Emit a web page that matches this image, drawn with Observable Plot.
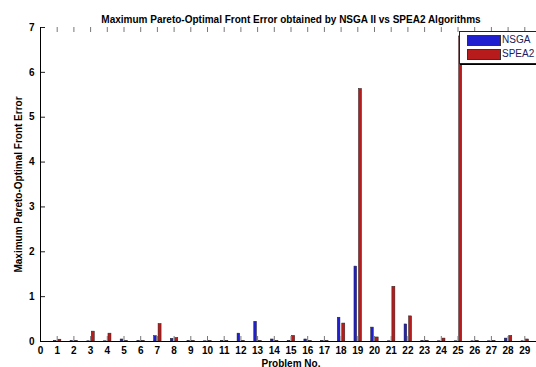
<!DOCTYPE html>
<html>
<head>
<meta charset="utf-8">
<script src="https://cdn.jsdelivr.net/npm/d3@7"></script>
<script src="https://cdn.jsdelivr.net/npm/@observablehq/plot@0.6"></script>
<style>
  html, body { margin: 0; padding: 0; background: #fff; overflow: hidden; }
  #wrap { position: relative; width: 536px; height: 367px; overflow: hidden; font-family: "Liberation Sans", Arial, sans-serif; }
  #chart svg { max-width: none !important; }
  #legend { position: absolute; left: 459px; top: 31px; width: 100px; height: 31px; background: #fff;
            border: 1px solid #222; border-right: none; box-shadow: 1px 1px 0 #000; }
  .sw { position: absolute; left: 7px; width: 32px; height: 9px; border: 1px solid #333; }
  .lt { position: absolute; left: 42px; font-size: 10px; line-height: 10px; color: #202060; }
</style>
</head>
<body>
<div id="wrap">
  <div id="chart"></div>
  <div id="legend">
    <div class="sw" style="top:3px;background:#1f1fcf"></div><div class="lt" style="top:3px">NSGA</div>
    <div class="sw" style="top:17px;background:#b81b1b"></div><div class="lt" style="top:17px">SPEA2</div>
  </div>
</div>
<script>
const titleText = "Maximum Pareto-Optimal Front Error obtained by NSGA II vs SPEA2 Algorithms";
const yLabel = "Maximum Pareto-Optimal Front Error";
const xLabel = "Problem No.";
const problems = [1,2,3,4,5,6,7,8,9,10,11,12,13,14,15,16,17,18,19,20,21,22,23,24,25,26,27,28,29];
const nsga  = [0.01,0.01,0.005,0.005,0.045,0.01,0.12,0.06,0.01,0.005,0.01,0.175,0.44,0.045,0.01,0.045,0.01,0.53,1.67,0.31,0.005,0.38,0.01,0.005,0.005,0.005,0.005,0.065,0.005];
const spea2 = [0.04,0.01,0.22,0.175,0.01,0.01,0.39,0.08,0.01,0.01,0.01,0.01,0.01,0.01,0.125,0.01,0.01,0.40,5.63,0.09,1.22,0.56,0.01,0.065,6.8,0.01,0.01,0.125,0.045];
const xTicks = d3.range(0, 31);
const yTicks = [0,1,2,3,4,5,6,7];
const seriesNames = ["NSGA", "SPEA2"];
const seriesColors = ["#1f1fcf", "#b81b1b"];

const rows = [];
problems.forEach((p, i) => {
  rows.push({problem: p, series: "NSGA", value: nsga[i]});
  rows.push({problem: p, series: "SPEA2", value: spea2[i]});
});
const off = {NSGA: [-0.20, -0.04], SPEA2: [0.07, 0.25]};

const W = 548, H = 367, mL = 40, mR = 7, mT = 27, mB = 26;
const fw = W - mL - mR, fh = H - mT - mB;
const font = "Liberation Sans, Arial, sans-serif";

const chart = Plot.plot({
  width: W, height: H,
  marginLeft: mL, marginRight: mR, marginTop: mT, marginBottom: mB,
  style: {fontFamily: font, background: "white", overflow: "visible", maxWidth: "none"},
  x: {domain: [0, 30]},
  y: {domain: [0, 7]},
  color: {domain: seriesNames, range: seriesColors},
  marks: [
    Plot.rectY(rows, {
      x1: d => d.problem + off[d.series][0],
      x2: d => d.problem + off[d.series][1],
      y1: 0, y2: "value",
      fill: "series", stroke: "#222", strokeWidth: 0.5, clip: true
    }),
    // inward ticks
    Plot.tickX(xTicks, {x: d => d, insetTop: fh - 5, stroke: "#777"}),
    Plot.tickX(xTicks, {x: d => d, insetBottom: fh - 5, stroke: "#777"}),
    Plot.tickY(yTicks, {y: d => d, insetRight: fw - 5, stroke: "#222"}),
    Plot.ruleX([0], {stroke: "#000"}),
    Plot.ruleY([0], {stroke: "#000"}),
    Plot.axisX(xTicks, {tickSize: 0, tickPadding: 5, fontSize: 10, fontWeight: "bold", label: null, fill: "#000"}),
    Plot.axisY(yTicks, {tickSize: 0, tickPadding: 6, fontSize: 10, fontWeight: "bold", label: null, fill: "#000"}),
    Plot.text([titleText], {frameAnchor: "top", dy: -12, fontSize: 10, fontWeight: "bold", fill: "#000"}),
    Plot.text([xLabel], {frameAnchor: "bottom", lineAnchor: "bottom", dy: 25, fontSize: 10, fontWeight: "bold", fill: "#000"}),
    Plot.text([yLabel], {frameAnchor: "left", textAnchor: "middle", dx: -22, rotate: -90, fontSize: 10, fontWeight: "bold", fill: "#000"})
  ]
});
chart.style.maxWidth = "none";
document.getElementById("chart").appendChild(chart);
</script>
</body>
</html>
